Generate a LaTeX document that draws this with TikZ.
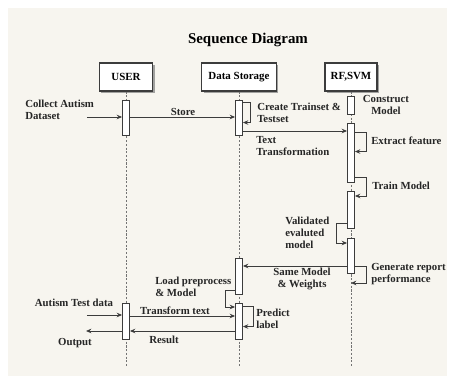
\documentclass[tikz,border=0pt]{standalone}
\usepackage{fontspec}
\setmainfont{Liberation Serif}
\usetikzlibrary{arrows.meta,shadows}
\definecolor{fundo}{RGB}{247,245,239}
\definecolor{traco}{RGB}{60,60,60}
\begin{document}
\begin{tikzpicture}[x=0.75pt,y=-0.75pt,
objeto/.style={rectangle,draw=traco,fill=white,line width=0.8pt,
minimum height=21pt,
font=\bfseries\fontsize{8.2}{9}\selectfont,
drop shadow={shadow xshift=1.5pt,shadow yshift=-1.5pt,fill=black!45,opacity=0.8}},
ativo/.style={rectangle,draw=traco,fill=white,line width=0.7pt,
minimum width=5.2pt,inner sep=0pt},
vida/.style={black!55,line width=0.6pt,dash pattern=on 1.6pt off 1.2pt},
msg/.style={traco,line width=0.6pt,-{Stealth[length=4pt,width=3.4pt]}},
rotulo/.style={font=\bfseries\fontsize{8.1}{9}\selectfont,align=left,inner sep=0pt,text=black!85}
]
\useasboundingbox (0,0) rectangle (455,382);
\fill[fundo] (8,8) rectangle (447,376);

% titulo
\node[font=\bfseries\fontsize{11.2}{13}\selectfont] (titulo) at (248,40) {Sequence Diagram};

% objetos
\node[objeto,minimum width=40pt] (user) at (126,77) {USER};
\node[objeto,minimum width=56pt] (dados) at (239,77) {Data Storage};
\node[objeto,minimum width=39pt] (rfsvm) at (351,77) {RF,SVM};

% linhas de vida
\coordinate (fimU) at (126,367);
\coordinate (fimD) at (239,367);
\coordinate (fimR) at (351,367);
\draw[vida] (user.south) -- (fimU);
\draw[vida] (dados.south) -- (fimD);
\draw[vida] (rfsvm.south) -- (fimR);

% ativacoes
\node[ativo,minimum height=26.25pt] (u1) at (126,117.5) {};
\node[ativo,minimum height=26.25pt] (d1) at (239,117.5) {};
\node[ativo,minimum height=13.5pt] (r1) at (351,105) {};
\node[ativo,minimum height=44.25pt] (r2) at (351,152.5) {};
\node[ativo,minimum height=27.75pt] (r3) at (351,209.5) {};
\node[ativo,minimum height=26.25pt] (r4) at (351,255.5) {};
\node[ativo,minimum height=27pt] (d2) at (239,276) {};
\node[ativo,minimum height=27pt] (d3) at (239,321) {};
\node[ativo,minimum height=27pt] (u2) at (126,321) {};

% mensagens
\coordinate (coleta) at (87,117);
\draw[msg] (coleta) -- (u1.west |- coleta);
\draw[msg] (u1.east |- coleta) -- (d1.west |- coleta);
\draw[msg] (d1.north east) ++(0,3) -- ++(7,0) -- ++(0,20) -- ++(-7,0);
\coordinate (texto) at (300,131);
\draw[msg] (d1.east |- texto) -- (r2.west |- texto);
\draw[msg] (r2.north east) ++(0,10) -- ++(11,0) -- ++(0,19) -- ++(-11,0);
\draw[msg] (r2.south east) ++(0,-5) -- ++(11,0) |- (r3.east |- 0,196);
\draw[msg] (r3.south west) ++(0,-5) -- ++(-11,0) |- (r4.west |- 0,243);
\coordinate (mesmo) at (300,266);
\draw[msg] (r4.west |- mesmo) -- (d2.east |- mesmo);
\draw[msg] (r4.east |- mesmo) -- ++(11,0) |- (r4.south |- 0,283);
\draw[msg] (d2.south west) ++(0,-4) -- ++(-10,0) |- (d3.west |- 0,307);
\draw[msg] (d3.north east) ++(0,4) -- ++(10,0) -- ++(0,20) -- ++(-10,0);
\coordinate (teste) at (87,315);
\draw[msg] (teste) -- (u2.west |- teste);
\draw[msg] (u2.east |- 0,316) -- (d3.west |- 0,316);
\coordinate (saida) at (86,331);
\draw[msg] (d3.west |- saida) -- (u2.east |- saida);
\draw[msg] (u2.west |- saida) -- (saida);

% rotulos
\node[rotulo,anchor=west] (lcoleta) at (25,110) {Collect Autism\\Dataset};
\node[rotulo] (lstore) at (183,112) {Store};
\node[rotulo,anchor=west] (lcria) at (257,112.5) {Create Trainset \&\\Testset};
\node[rotulo,align=center] (lconst) at (386,105) {Construct\\Model};
\node[rotulo,anchor=west] (ltexto) at (256,146) {Text\\Transformation};
\node[rotulo,anchor=west] (lextrai) at (371,141) {Extract feature};
\node[rotulo,anchor=west] (ltreina) at (372,185.5) {Train Model};
\node[rotulo,anchor=west] (lvalida) at (285,233) {Validated\\evaluted\\model};
\node[rotulo,align=center] (lmesmo) at (302,278.5) {Same Model\\\& Weights};
\node[rotulo,anchor=west] (lgera) at (371,274) {Generate report\\performance};
\node[rotulo,anchor=west] (lcarga) at (155,287) {Load preprocess\\\& Model};
\node[rotulo,anchor=west] (lprediz) at (256,319) {Predict\\label};
\node[rotulo] (lteste) at (74,303) {Autism Test data};
\node[rotulo] (ltransf) at (175,310.5) {Transform text};
\node[rotulo] (lresult) at (164,340) {Result};
\node[rotulo] (lsaida) at (75,343) {Output};

\end{tikzpicture}
\end{document}
